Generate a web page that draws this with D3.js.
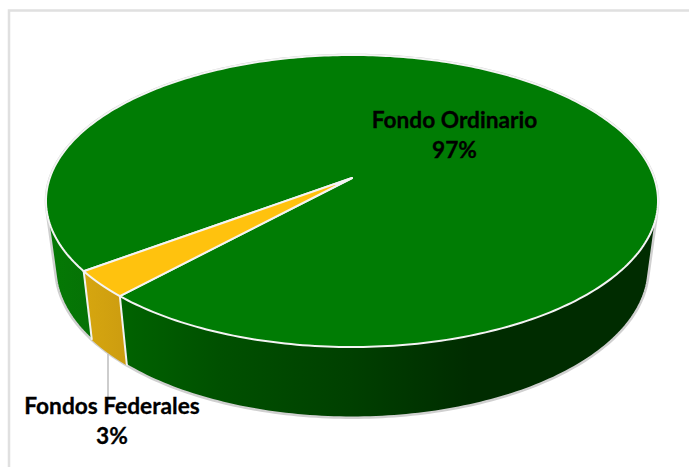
<!DOCTYPE html>
<html>
<head>
<meta charset="utf-8">
<script src="https://cdn.jsdelivr.net/npm/d3@7"></script>
<style>
  html, body { margin: 0; padding: 0; background: #fff; }
  svg { display: block; }
  text { font-family: Lato, "Open Sans", sans-serif; font-weight: 700; fill: #000; stroke: #000; stroke-width: 0.3; text-anchor: middle; }
</style>
</head>
<body>
<script>
const categories = ["Fondo Ordinario", "Fondos Federales"];
const shares = [97, 3];
const percentLabels = ["97%", "3%"];

const width = 689;
const height = 467;
const deg = Math.PI / 180;

const svg = d3.select("body").append("svg")
    .attr("width", width)
    .attr("height", height);

// frame around the chart
svg.append("rect")
    .attr("x", 9).attr("y", 10.5)
    .attr("width", 700).attr("height", 500)
    .attr("fill", "#fff")
    .attr("stroke", "#e0e0e0")
    .attr("stroke-width", 2.5);

const topColors = ["#007c04", "#ffc20e"];

// side shade runs left to right across the picture
const wallStops = [
    [
        [45, "#047a04"], [90, "#067206"], [125, "#006200"], [220, "#005000"],
        [350, "#004000"], [470, "#002c00"], [657, "#002c00"]
    ],
    [[85, "#d6a60f"], [128, "#cc9c10"]]
];

const defs = svg.append("defs");
wallStops.forEach((stops, i) => {
    const x0 = stops[0][0];
    const x1 = stops[stops.length - 1][0];
    const grad = defs.append("linearGradient")
        .attr("id", "wall" + i)
        .attr("gradientUnits", "userSpaceOnUse")
        .attr("x1", x0).attr("y1", 0)
        .attr("x2", x1).attr("y2", 0);
    grad.selectAll("stop")
        .data(stops)
        .join("stop")
        .attr("offset", d => (d[0] - x0) / (x1 - x0))
        .attr("stop-color", d => d[1]);
});

// perspective for the disc: k pulls the far side in
const k = 0.1575;
const topDisc = { cx: 352, cy: 178, a: 302.2, b: 142.4 };
const baseDisc = { cx: 352, cy: 244.4, a: 293, b: 146 };

function project(disc, angle) {
    const X = Math.sin(angle);
    const Y = -Math.cos(angle);
    const w = 1 - k * Y;
    return [disc.cx + disc.a * X / w, disc.cy + disc.b * Y / w];
}

const pie = d3.pie().sort(null).startAngle(233.6 * deg).endAngle((233.6 + 360) * deg);
const slices = pie(shares);

const line = d3.line();
const rim = (disc, s) => d3.range(0, 361).map(i =>
    project(disc, s.startAngle + (s.endAngle - s.startAngle) * i / 360));

// body of the pie: hull of both discs, carries the grey edge and the green wall
const fullCircle = d3.range(0, 360).map(i => i * deg);
const hull = d3.polygonHull([
    ...fullCircle.map(t => project(topDisc, t)),
    ...fullCircle.map(t => project(baseDisc, t))
]);
svg.append("path")
    .attr("d", line(hull) + "Z")
    .attr("fill", "url(#wall0)")
    .attr("stroke", "#d0d0d0")
    .attr("stroke-width", 2.5);

// wall of the small slice sits on top of the green
svg.append("path")
    .attr("d", line([...rim(topDisc, slices[1]), ...rim(baseDisc, slices[1]).reverse()]) + "Z")
    .attr("fill", "url(#wall1)");

// light seams on the wall at slice edges
slices.forEach(s => {
    svg.append("path")
        .attr("d", line([project(topDisc, s.startAngle), project(baseDisc, s.startAngle)]))
        .attr("stroke", "#f2f2f2")
        .attr("stroke-width", 2);
});

// top faces
slices.forEach((s, i) => {
    svg.append("path")
        .attr("d", line([[topDisc.cx, topDisc.cy], ...rim(topDisc, s)]) + "Z")
        .attr("fill", topColors[i])
        .attr("stroke", "#f4f4f4")
        .attr("stroke-width", 2)
        .attr("stroke-linejoin", "round");
});

// leader line for the small slice
svg.append("line")
    .attr("x1", 108).attr("y1", 354)
    .attr("x2", 108).attr("y2", 398)
    .attr("stroke", "#bdbdbd")
    .attr("stroke-width", 1.5);

const labels = [
    { x: 454.5, y1: 128, y2: 158 },
    { x: 112, y1: 414, y2: 444 }
];
labels.forEach((l, i) => {
    svg.append("text").attr("x", l.x).attr("y", l.y1).attr("font-size", 22.7).text(categories[i]);
    svg.append("text").attr("x", l.x).attr("y", l.y2).attr("font-size", 22.7).text(percentLabels[i]);
});
</script>
</body>
</html>
